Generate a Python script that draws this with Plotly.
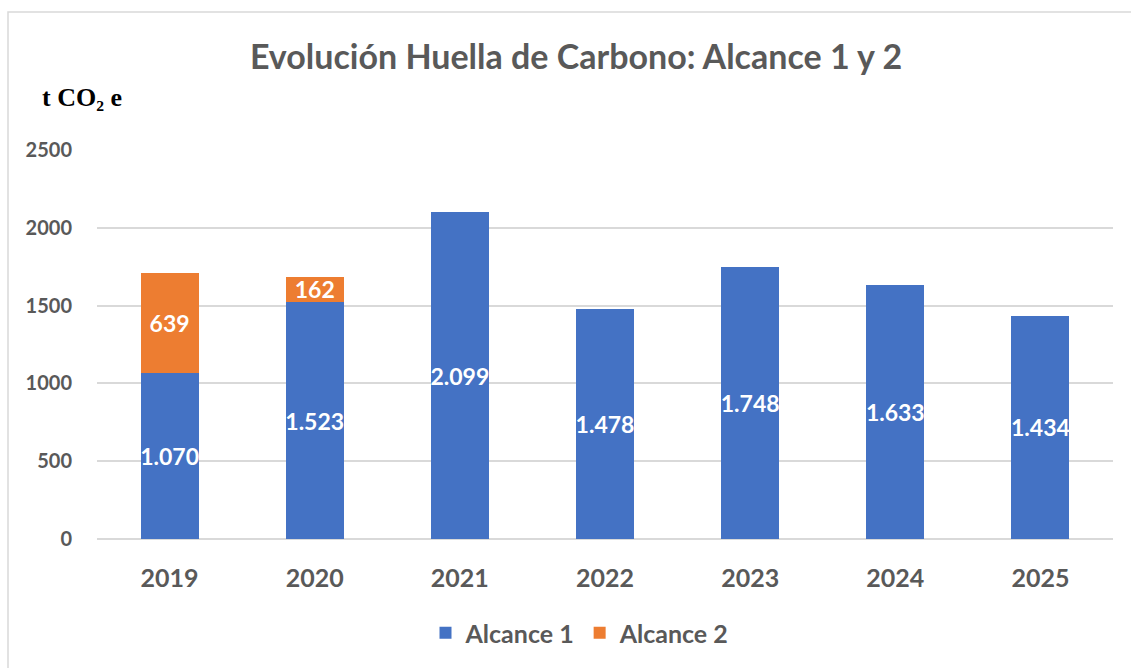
import plotly.graph_objects as go

years = ["2019", "2020", "2021", "2022", "2023", "2024", "2025"]
alcance1 = [1070, 1523, 2099, 1478, 1748, 1633, 1434]
alcance2 = [639, 162, None, None, None, None, None]

def fmt(v):
    return "" if v is None else f"{v:,}".replace(",", ".")

W, H = 1131, 668
L, R, T, B = 97, 1113, 150, 539

fig = go.Figure()
for name, vals, col in [("Alcance 1", alcance1, "#4472C4"), ("Alcance 2", alcance2, "#ED7D31")]:
    fig.add_trace(go.Bar(
        x=years, y=vals, name=name,
        marker=dict(color=col, line=dict(width=0)),
        text=[fmt(v) for v in vals], textposition="inside", textangle=0,
        insidetextanchor="middle", constraintext="none",
        textfont=dict(family="Lato", size=23, color="white", weight="bold"),
        hoverinfo="skip",
    ))

def px2x(px):
    return (px - L) / (R - L)

def px2y(py):
    return (B - py) / (B - T)

fig.update_layout(
    width=W, height=H,
    barmode="stack", bargap=0.6,
    paper_bgcolor="white", plot_bgcolor="white",
    margin=dict(l=L, r=W - R, t=T, b=H - B, autoexpand=False),
    font=dict(family="Lato", color="#595959"),
    title=dict(text="<b>Evolución Huella de Carbono: Alcance 1 y 2</b>",
               x=px2x(576), xref="paper", xanchor="center",
               y=1 - 57 / H, yref="container", yanchor="middle",
               font=dict(family="Lato", size=34, color="#595959")),
    showlegend=True,
    legend=dict(orientation="h", x=px2x(580), xanchor="center", y=px2y(633), yanchor="middle",
                font=dict(family="Lato", size=25, color="#595959", weight="bold"),
                itemwidth=30, traceorder="normal", itemclick=False),
    xaxis=dict(showgrid=False, showline=False, ticks="", ticklabelstandoff=22,
               tickfont=dict(family="Lato", size=25, color="#595959", weight="bold"),
               fixedrange=True),
    yaxis=dict(range=[0, 2500], dtick=500, tickformat="d", showgrid=True,
               gridcolor="#D9D9D9", gridwidth=1.5, zeroline=True,
               zerolinecolor="#D9D9D9", zerolinewidth=1.5, showline=False,
               ticks="", ticklabelstandoff=24,
               tickfont=dict(family="Lato", size=20, color="#595959", weight="bold"),
               fixedrange=True),
    annotations=[dict(text="<b>t CO₂ e</b>", xref="paper", yref="paper",
                      x=px2x(40), y=px2y(97), xanchor="left", yanchor="middle",
                      showarrow=False,
                      font=dict(family="Liberation Serif", size=26, color="black"))],
    shapes=[dict(type="rect", xref="paper", yref="paper",
                 x0=px2x(8), y0=px2y(700), x1=px2x(1140), y1=px2y(12),
                 line=dict(color="#D9D9D9", width=1.5), fillcolor="rgba(0,0,0,0)",
                 layer="below")],
)

fig.write_html("out.html", config={"displayModeBar": False},
               post_script="document.body.style.margin='0';")
